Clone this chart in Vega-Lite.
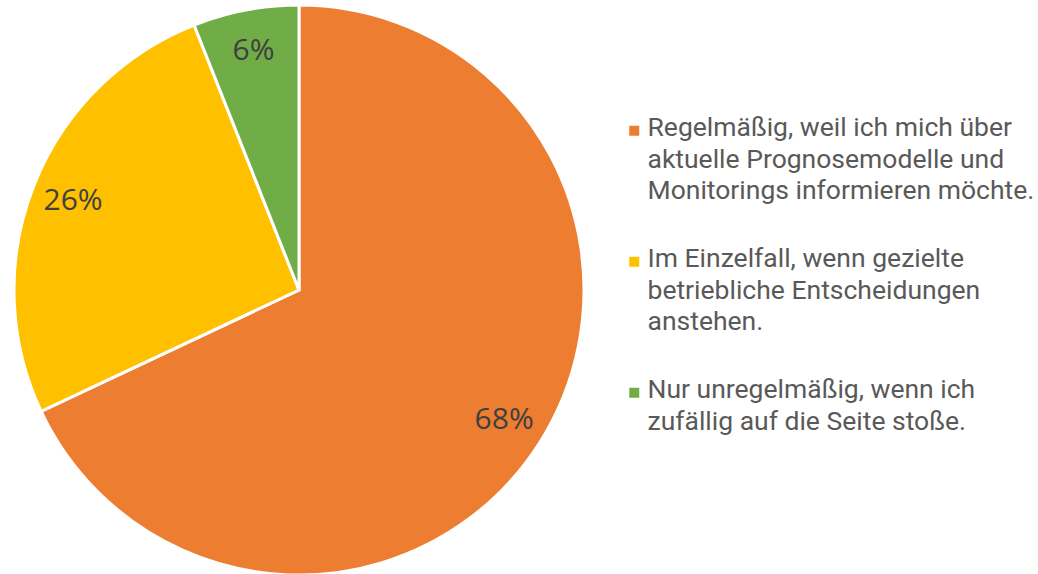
{
  "$schema": "https://vega.github.io/schema/vega-lite/v6.json",
  "width": 598,
  "height": 580,
  "autosize": {"type": "none"},
  "padding": {"left": 0, "top": 0, "right": 440, "bottom": 0},
  "background": "white",
  "config": {
    "view": {"stroke": null},
    "style": {"guide-label": {"lineHeight": 31.5}}
  },
  "data": {
    "values": [
      {"antwort": "Regelmäßig, weil ich mich über|aktuelle Prognosemodelle und|Monitorings informieren möchte.", "anteil": 68, "rang": 1, "label": "68%"},
      {"antwort": "Im Einzelfall, wenn gezielte|betriebliche Entscheidungen|anstehen.", "anteil": 26, "rang": 2, "label": "26%"},
      {"antwort": "Nur unregelmäßig, wenn ich|zufällig auf die Seite stoße.", "anteil": 6, "rang": 3, "label": "6%"}
    ]
  },
  "encoding": {
    "theta": {"field": "anteil", "type": "quantitative", "stack": true},
    "order": {"field": "rang", "type": "quantitative"},
    "color": {
      "field": "antwort",
      "type": "nominal",
      "sort": null,
      "scale": {
        "domain": [
          "Regelmäßig, weil ich mich über|aktuelle Prognosemodelle und|Monitorings informieren möchte.",
          "Im Einzelfall, wenn gezielte|betriebliche Entscheidungen|anstehen.",
          "Nur unregelmäßig, wenn ich|zufällig auf die Seite stoße."
        ],
        "range": ["#ED7D31", "#FFC000", "#70AD47"]
      },
      "legend": {
        "title": null,
        "orient": "none",
        "legendX": 625,
        "legendY": 102,
        "padding": 0,
        "symbolType": "M-1.8,2.1H0.2V4.1H-1.8Z",
        "symbolSize": 100,
        "symbolStrokeWidth": 0,
        "labelExpr": "split(datum.label, '|')",
        "labelFont": "Roboto",
        "labelFontSize": 26.5,
        "labelColor": "#595959",
        "labelLimit": 500,
        "labelOffset": -4,
        "labelBaseline": "top",
        "rowPadding": 28
      }
    }
  },
  "layer": [
    {
      "mark": {"type": "arc", "outerRadius": 285, "stroke": "white", "strokeWidth": 3}
    },
    {
      "mark": {"type": "text", "radius": 243, "font": "Open Sans", "fontSize": 30, "fill": "#404040"},
      "encoding": {"text": {"field": "label"}, "color": {"value": "#404040"}}
    }
  ]
}
